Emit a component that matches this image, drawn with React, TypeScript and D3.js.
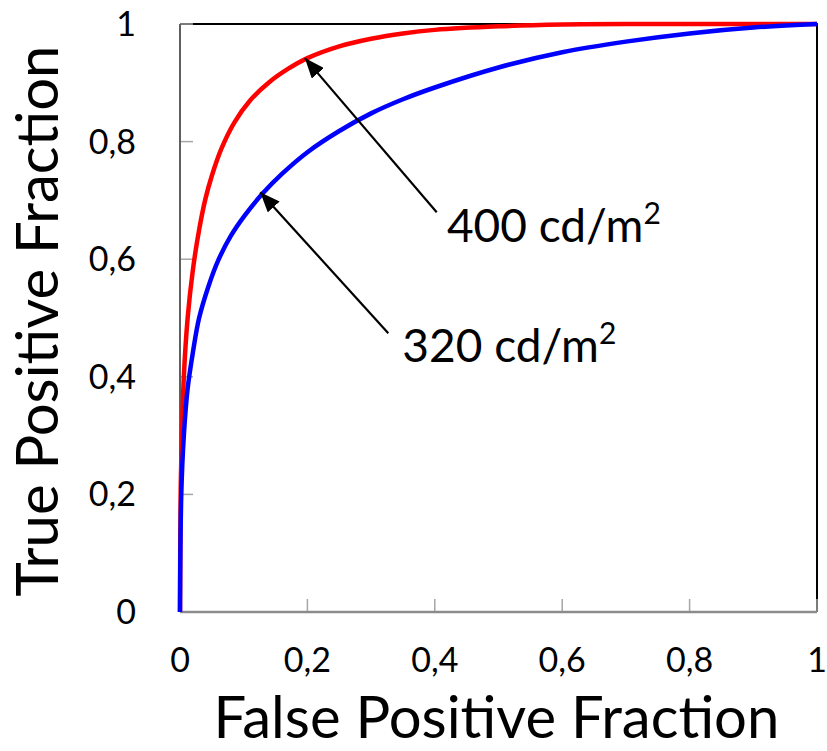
import React, { useEffect, useRef } from "react";
import * as d3 from "d3";

// ROC curves
const redFpf = [0, 0.001, 0.003, 0.006, 0.012, 0.02, 0.03, 0.04, 0.05, 0.065, 0.085, 0.11, 0.14, 0.17, 0.2, 0.25, 0.3, 0.35, 0.4, 0.5, 0.6, 0.7, 1];
const redTpf = [0, 0.2, 0.3, 0.4, 0.5, 0.58, 0.65, 0.703, 0.742, 0.788, 0.832, 0.87, 0.901, 0.924, 0.942, 0.962, 0.975, 0.984, 0.99, 0.996, 0.999, 1, 1];

const blueFpf = [0, 0.002, 0.006, 0.012, 0.02, 0.03, 0.045, 0.06, 0.08, 0.1, 0.13, 0.16, 0.2, 0.25, 0.3, 0.35, 0.4, 0.5, 0.6, 0.7, 0.8, 0.9, 1];
const blueTpf = [0, 0.2, 0.3, 0.38, 0.44, 0.5, 0.555, 0.598, 0.64, 0.672, 0.712, 0.745, 0.782, 0.818, 0.848, 0.872, 0.892, 0.926, 0.952, 0.97, 0.984, 0.994, 1];

const tickValues = [0, 0.2, 0.4, 0.6, 0.8, 1];

// annotations: label, label anchor, arrow start, arrow tip (data units)
const labels = ["400 cd/m", "320 cd/m"];
const labelPos = [[0.419, 0.629], [0.349, 0.425]];
const arrowFrom = [[0.403, 0.68], [0.327, 0.474]];
const arrowTo = [[0.196, 0.942], [0.126, 0.714]];

const fmt = (v: number) => (v === 0 || v === 1 ? String(v) : String(v).replace(".", ","));

export default function App() {
  const ref = useRef<SVGSVGElement | null>(null);

  useEffect(() => {
    const svg = d3.select(ref.current);
    svg.selectAll("*").remove();

    const margin = { top: 24, right: 10, bottom: 139, left: 180 };
    const width = 827 - margin.left - margin.right;
    const height = 751 - margin.top - margin.bottom;
    const font = "Lato, 'Open Sans', sans-serif";

    const x = d3.scaleLinear().domain([0, 1]).range([0, width]);
    const y = d3.scaleLinear().domain([0, 1]).range([height, 0]);

    const defs = svg.append("defs");
    defs
      .append("marker")
      .attr("id", "arrowhead")
      .attr("markerUnits", "userSpaceOnUse")
      .attr("viewBox", "0 0 20 16")
      .attr("refX", 20)
      .attr("refY", 8)
      .attr("markerWidth", 20)
      .attr("markerHeight", 16)
      .attr("orient", "auto")
      .append("path")
      .attr("d", "M0,0 L20,8 L0,16 Z")
      .attr("fill", "#000");

    const g = svg
      .append("g")
      .attr("transform", "translate(" + margin.left + "," + margin.top + ")");

    // top and right frame
    g.append("path")
      .attr("d", `M0,0 H${width} V${height}`)
      .attr("fill", "none")
      .attr("stroke", "#000")
      .attr("stroke-width", 2);

    // ticks (inside)
    tickValues.forEach(v => {
      g.append("line")
        .attr("x1", 0).attr("x2", 13)
        .attr("y1", y(v)).attr("y2", y(v))
        .attr("stroke", "#a6a6a6").attr("stroke-width", 1.5);
      g.append("line")
        .attr("x1", x(v)).attr("x2", x(v))
        .attr("y1", height).attr("y2", height - 13)
        .attr("stroke", "#a6a6a6").attr("stroke-width", 1.5);
    });

    // axis lines
    g.append("line")
      .attr("x1", 0).attr("x2", 0).attr("y1", 0).attr("y2", height)
      .attr("stroke", "#5f5f5f").attr("stroke-width", 2);
    g.append("line")
      .attr("x1", 0).attr("x2", width).attr("y1", height).attr("y2", height)
      .attr("stroke", "#8c8c8c").attr("stroke-width", 2.5);

    // tick labels
    tickValues.forEach(v => {
      g.append("text")
        .attr("x", -44)
        .attr("y", y(v) + 12)
        .attr("text-anchor", "end")
        .style("font-family", font)
        .style("font-size", "34px")
        .text(fmt(v));
      g.append("text")
        .attr("x", x(v))
        .attr("y", height + 60)
        .attr("text-anchor", "middle")
        .style("font-family", font)
        .style("font-size", "34px")
        .text(fmt(v));
    });

    // axis titles
    g.append("text")
      .attr("x", width / 2 - 2)
      .attr("y", height + 126)
      .attr("text-anchor", "middle")
      .style("font-family", font)
      .style("font-size", "58px")
      .text("False Positive Fraction");

    g.append("text")
      .attr("transform", `translate(${-122},${height / 2 + 3}) rotate(-90)`)
      .attr("text-anchor", "middle")
      .style("font-family", font)
      .style("font-size", "58px")
      .text("True Positive Fraction");

    // curves
    const line = d3
      .line<[number, number]>()
      .x(d => x(d[0]))
      .y(d => y(d[1]))
      .curve(d3.curveCatmullRom.alpha(0.5));

    const redData = redFpf.map((v, i) => [v, redTpf[i]] as [number, number]);
    const blueData = blueFpf.map((v, i) => [v, blueTpf[i]] as [number, number]);

    g.append("path")
      .attr("d", line(redData))
      .attr("fill", "none")
      .attr("stroke", "#ff0000")
      .attr("stroke-width", 4.5);

    g.append("path")
      .attr("d", line(blueData))
      .attr("fill", "none")
      .attr("stroke", "#0000ff")
      .attr("stroke-width", 4.5);

    // annotations
    labels.forEach((lab, i) => {
      g.append("line")
        .attr("x1", x(arrowFrom[i][0]))
        .attr("y1", y(arrowFrom[i][1]))
        .attr("x2", x(arrowTo[i][0]))
        .attr("y2", y(arrowTo[i][1]))
        .attr("stroke", "#000")
        .attr("stroke-width", 2.2)
        .attr("marker-end", "url(#arrowhead)");

      const t = g.append("text")
        .attr("x", x(labelPos[i][0]))
        .attr("y", y(labelPos[i][1]))
        .style("font-family", font)
        .style("font-size", "46px")
        .text(lab);
      t.append("tspan")
        .attr("dy", -18)
        .style("font-size", "30px")
        .text("2");
    });
  }, []);

  return (
    <div style={{ position: "absolute", left: 0, top: 0 }}>
      <svg ref={ref} width={827} height={751} style={{ display: "block", background: "#fff" }} />
    </div>
  );
}
